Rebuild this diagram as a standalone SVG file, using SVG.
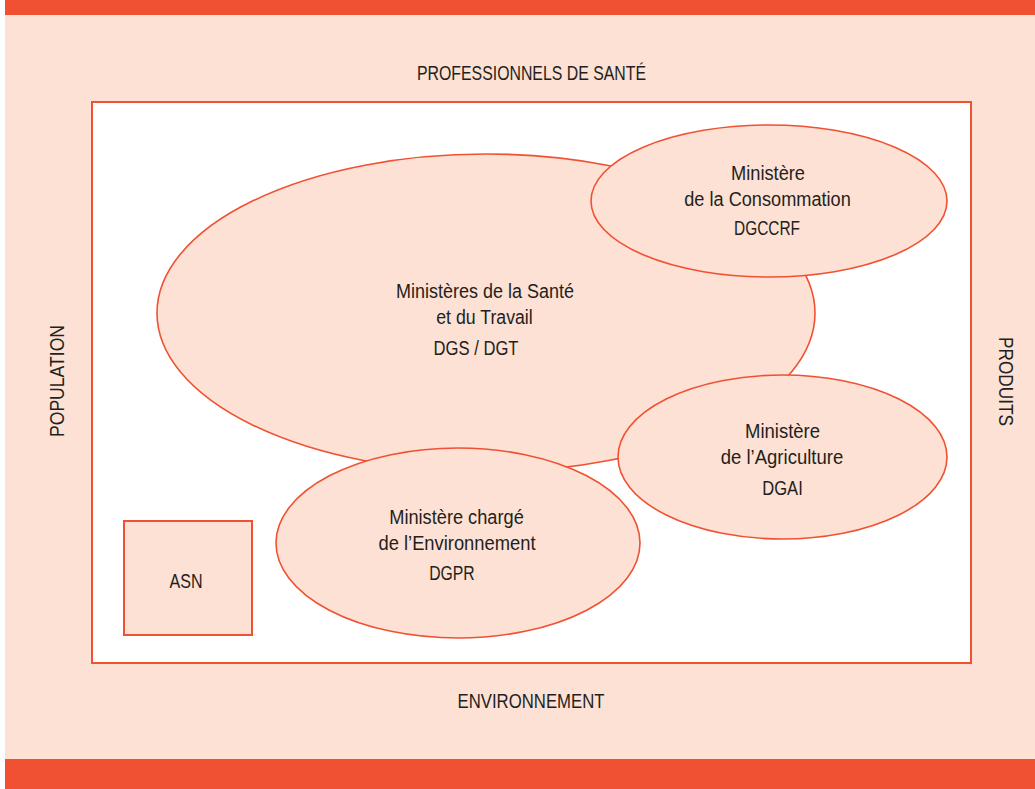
<svg xmlns="http://www.w3.org/2000/svg" width="1035" height="789" viewBox="0 0 1035 789">
  <style>
    .bar { fill: #F05133; }
    .panel { fill: #FDE1D4; }
    .frame { fill: #FFFFFF; stroke: #F05133; stroke-width: 2; }
    .bubble { fill: #FDE1D4; stroke: #F05133; stroke-width: 1.6; }
    .box { fill: #FDE1D4; stroke: #F05133; stroke-width: 2; }
    text { font-family: "Liberation Sans", Arial, sans-serif; fill: #231F20; text-anchor: middle; }
    .lbl { font-size: 20px; }
    .side { font-size: 21px; }
  </style>

  <!-- page background and bands -->
  <rect x="0" y="0" width="1035" height="789" fill="#FFFFFF"/>
  <rect class="panel" x="5" y="15" width="1030" height="745"/>
  <rect class="bar" x="5" y="0" width="1030" height="15"/>
  <rect class="bar" x="5" y="759" width="1030" height="30"/>

  <!-- surrounding domains -->
  <g id="side-labels">
    <text class="side" x="531.5" y="80" textLength="229" lengthAdjust="spacingAndGlyphs">PROFESSIONNELS DE SANTÉ</text>
    <text class="side" x="531" y="708" textLength="147" lengthAdjust="spacingAndGlyphs">ENVIRONNEMENT</text>
    <text class="side" transform="translate(64,381) rotate(-90)" textLength="112" lengthAdjust="spacingAndGlyphs">POPULATION</text>
    <text class="side" transform="translate(999,381.5) rotate(90)" textLength="89" lengthAdjust="spacingAndGlyphs">PRODUITS</text>
  </g>

  <!-- central frame -->
  <rect id="frame" class="frame" x="92" y="102" width="879" height="561"/>

  <g id="sante">
    <ellipse class="bubble" cx="486" cy="313" rx="329" ry="159"/>
    <text class="lbl" x="485" y="298" textLength="178" lengthAdjust="spacingAndGlyphs">Ministères de la Santé</text>
    <text class="lbl" x="484.5" y="323.5" textLength="96.5" lengthAdjust="spacingAndGlyphs">et du Travail</text>
    <text class="lbl" x="476" y="354.5" textLength="85" lengthAdjust="spacingAndGlyphs">DGS / DGT</text>
  </g>

  <g id="consommation">
    <ellipse class="bubble" cx="769" cy="201" rx="178" ry="76"/>
    <text class="lbl" x="768" y="180" textLength="74" lengthAdjust="spacingAndGlyphs">Ministère</text>
    <text class="lbl" x="767.5" y="206" textLength="166.5" lengthAdjust="spacingAndGlyphs">de la Consommation</text>
    <text class="lbl" x="767" y="234.5" textLength="66" lengthAdjust="spacingAndGlyphs">DGCCRF</text>
  </g>

  <g id="agriculture">
    <ellipse class="bubble" cx="782.5" cy="457" rx="164.5" ry="82"/>
    <text class="lbl" x="782.5" y="437.5" textLength="75" lengthAdjust="spacingAndGlyphs">Ministère</text>
    <text class="lbl" x="782" y="463.5" textLength="122.5" lengthAdjust="spacingAndGlyphs">de l’Agriculture</text>
    <text class="lbl" x="782.5" y="495" textLength="40.5" lengthAdjust="spacingAndGlyphs">DGAI</text>
  </g>

  <g id="environnement">
    <ellipse class="bubble" cx="458" cy="543" rx="182" ry="95"/>
    <text class="lbl" x="456.5" y="523.5" textLength="134.5" lengthAdjust="spacingAndGlyphs">Ministère chargé</text>
    <text class="lbl" x="457" y="550" textLength="157" lengthAdjust="spacingAndGlyphs">de l’Environnement</text>
    <text class="lbl" x="452" y="579.5" textLength="45.5" lengthAdjust="spacingAndGlyphs">DGPR</text>
  </g>

  <g id="asn">
    <rect class="box" x="124" y="521" width="128" height="114"/>
    <text class="lbl" x="186" y="587.5" textLength="33" lengthAdjust="spacingAndGlyphs">ASN</text>
  </g>
</svg>
